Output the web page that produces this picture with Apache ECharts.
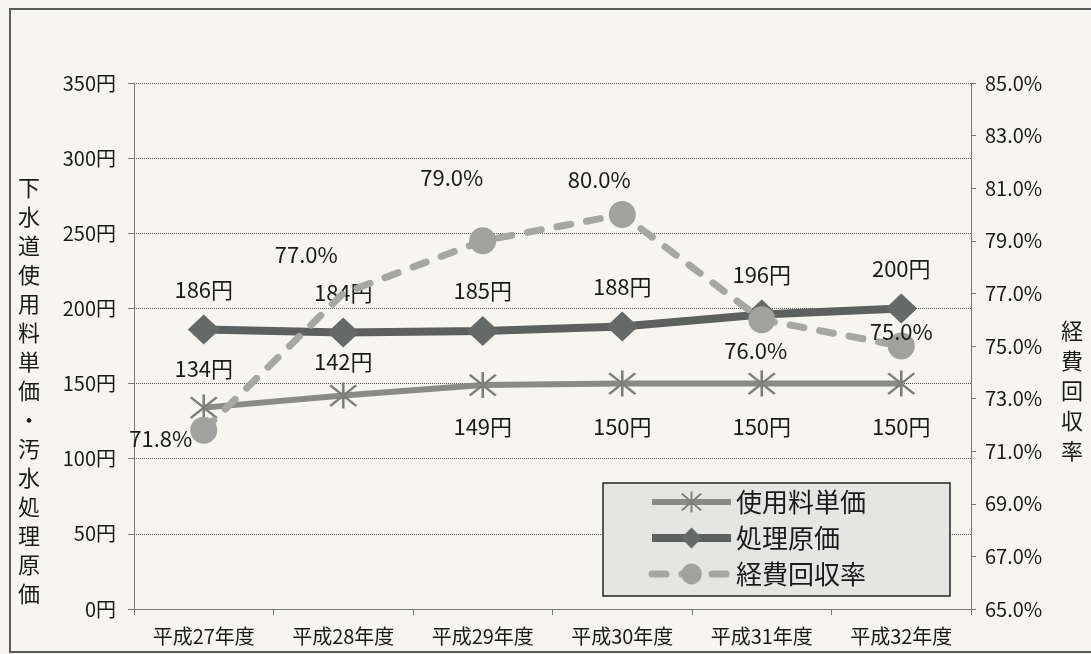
<!DOCTYPE html>
<html><head><meta charset="utf-8">
<script src="https://cdn.jsdelivr.net/npm/echarts@6/dist/echarts.min.js"></script>
<style>html,body{margin:0;padding:0;background:#f6f5f0}#c{width:1091px;height:654px}</style>
</head><body><div id="c"></div>
<script>
// ---- data ----
const categories = ['平成27年度','平成28年度','平成29年度','平成30年度','平成31年度','平成32年度'];
const unitPrice = [134, 142, 149, 150, 150, 150];        // 使用料単価 (円)
const treatCost = [186, 184, 185, 188, 196, 200];        // 処理原価 (円)
const recoveryRate = [71.8, 77.0, 79.0, 80.0, 76.0, 75.0]; // 経費回収率 (%)
const seriesNames = ['使用料単価', '処理原価', '経費回収率'];
const leftAxisName = '下水道使用料単価・汚水処理原価';
const rightAxisName = '経費回収率';

// ---- label placement / marker visibility (style, not data) ----
const unitLabelPos = ['top','top','bottom','bottom','bottom','bottom'];
const unitLabelDist = [15, 10, 18, 19, 19, 19];
const rateMarkerSize = [27, 0, 27, 27, 27, 27];
const rateLabelCfg = [
  {position:'left', distance:4, offset:[6,8]},
  {position:'top', distance:5, offset:[-37,-23]},
  {position:'top', distance:5, offset:[-31,-34]},
  {position:'top', distance:5, offset:[-23,-5]},
  {position:'bottom', distance:5, offset:[-6,1]},
  {position:'top', distance:5, offset:[0,15]}
];

const FONT = '"Noto Sans CJK JP", "Noto Sans", sans-serif';
const asterisk = 'path://M9.2,0 L10.8,0 L10.8,20 L9.2,20 Z M2.6,1.4 L18.6,17.4 L17.4,18.6 L1.4,2.6 Z M17.4,1.4 L18.6,2.6 L2.6,18.6 L1.4,17.4 Z';

const chart = echarts.init(document.getElementById('c'));
chart.setOption({
  backgroundColor: '#f6f5f0',
  textStyle: {fontFamily: FONT, color: '#1a1a1a'},
  animation: false,
  grid: {left: 134, right: 120, top: 83, bottom: 45},
  graphic: [
    {type:'rect', z:-1, shape:{x:10, y:9, width:1100, height:643}, style:{fill:'none', stroke:'#5a5a5a', lineWidth:2}},
    {type:'rect', z:5, shape:{x:603, y:483, width:347, height:113}, style:{fill:'#e5e5e3', stroke:'#222', lineWidth:1.5}},
    {type:'text', z:5, style:{x:29, y:173, text: leftAxisName.split('').join('\n'), font:'22px ' + FONT, lineHeight:29, align:'center', verticalAlign:'top', fill:'#1a1a1a'}},
    {type:'text', z:5, style:{x:1072, y:316, text: rightAxisName.split('').join('\n'), font:'22px ' + FONT, lineHeight:30, align:'center', verticalAlign:'top', fill:'#1a1a1a'}}
  ],
  legend: {
    z: 10,
    orient: 'vertical', left: 648, top: 489, padding: 0,
    itemWidth: 79, itemHeight: 26, itemGap: 10,
    textStyle: {fontSize: 26, color: '#1a1a1a', fontFamily: FONT},
    data: [
      {name: seriesNames[0], lineStyle: {width: 6}},
      {name: seriesNames[1], lineStyle: {width: 8}},
      {name: seriesNames[2], lineStyle: {width: 7}}
    ]
  },
  xAxis: {
    type: 'category', data: categories, boundaryGap: true,
    axisLine: {lineStyle: {color: '#777', width: 1}},
    axisTick: {show: true, length: 6, lineStyle: {color: '#777'}},
    axisLabel: {fontSize: 20, color: '#1a1a1a', margin: 17}
  },
  yAxis: [
    {
      type: 'value', min: 0, max: 350, interval: 50,
      axisLine: {show: true, lineStyle: {color: '#777'}},
      axisTick: {show: true, length: 6, lineStyle: {color: '#777'}},
      axisLabel: {fontSize: 20, color: '#1a1a1a', margin: 18, formatter: v => v + '円'},
      splitLine: {show: true, lineStyle: {type: 'dotted', color: '#555', width: 1}}
    },
    {
      type: 'value', min: 65, max: 85, interval: 2,
      axisLine: {show: true, lineStyle: {color: '#777'}},
      axisTick: {show: true, length: 5, lineStyle: {color: '#777'}},
      axisLabel: {fontSize: 20, color: '#1a1a1a', margin: 14, formatter: v => v.toFixed(1) + '%'},
      splitLine: {show: false}
    }
  ],
  series: [
    {
      name: seriesNames[0], type: 'line', yAxisIndex: 0,
      data: unitPrice.map((v, i) => ({value: v, label: {position: unitLabelPos[i], distance: unitLabelDist[i]}})),
      symbol: asterisk, symbolSize: [28, 26],
      lineStyle: {color: '#8a8a88', width: 6},
      itemStyle: {color: '#7e7e7c'},
      label: {show: true, fontSize: 22, color: '#1a1a1a', formatter: p => p.value + '円'},
      z: 2
    },
    {
      name: seriesNames[1], type: 'line', yAxisIndex: 0,
      data: treatCost,
      symbol: 'diamond', symbolSize: [32, 30],
      lineStyle: {color: '#5c605e', width: 8},
      itemStyle: {color: '#656967'},
      label: {show: true, position: 'top', distance: 14, fontSize: 22, color: '#1a1a1a', formatter: p => p.value + '円'},
      z: 3
    },
    {
      name: seriesNames[2], type: 'line', yAxisIndex: 1,
      data: recoveryRate.map((v, i) => ({value: v, symbolSize: rateMarkerSize[i], label: rateLabelCfg[i]})),
      symbol: 'circle', symbolSize: 27,
      lineStyle: {color: '#a6a6a4', width: 7, type: [14, 16], cap: 'round'},
      itemStyle: {color: '#a1a19f'},
      label: {show: true, fontSize: 22, color: '#1a1a1a', formatter: p => p.value.toFixed(1) + '%'},
      z: 4
    }
  ]
});
</script></body></html>
